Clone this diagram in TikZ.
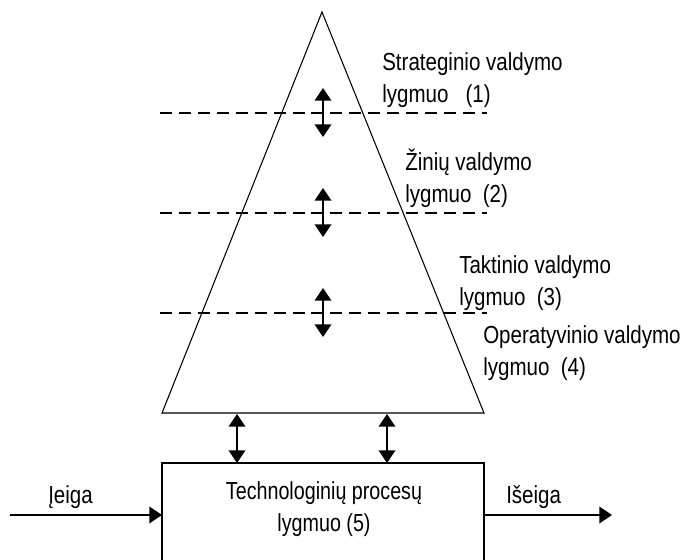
\documentclass[tikz,border=0pt]{standalone}
\usepackage{fontspec}
\usepackage{graphicx}
\setmainfont{Liberation Sans}
\usetikzlibrary{arrows.meta}
% the lettering is set slightly taller than the font's natural shape
\newcommand\talltext[1]{\scalebox{1}[1.2]{#1}}
\newcommand\boxtext[1]{\scalebox{0.96}[1.2]{#1}}
\begin{document}
\begin{tikzpicture}[x=0.75pt,y=-0.75pt,
  outline/.style={line width=0.8pt},
  levelline/.style={line width=0.8pt, dash pattern=on 9pt off 5.2pt},
  link/.style={line width=1.2pt,
    {Triangle[length=9.5pt,width=12.5pt]}-{Triangle[length=9.5pt,width=12.5pt]}},
  flow/.style={line width=1.2pt, -{Triangle[length=9.5pt,width=12.5pt]}},
  txt/.style={font=\fontsize{15.4}{18}\selectfont, inner sep=0pt},
  lbl/.style={txt, anchor=base west}]
\clip (0,0) rectangle (682,560);
\fill[white] (0,0) rectangle (682,560);

% pyramid of management levels
\coordinate (apex) at (322,12);
\coordinate (bl) at (162,413);
\coordinate (br) at (484,413);
\draw[outline] (apex) -- (br) -- (bl) -- cycle;

% borders between levels, with the exchange between neighbouring levels
\foreach \yy/\nm in {113/a,213/b,313/c}{
  \coordinate (l\nm) at (160,\yy);
  \coordinate (r\nm) at (487,\yy);
  \draw[levelline] (l\nm) -- (r\nm);
  \coordinate (u\nm) at (323,\yy-25);
  \coordinate (d\nm) at (323,\yy+24);
  \draw[link] (u\nm) -- (d\nm);
}

% level labels
\node[lbl] (s1a) at (382,70)  {\talltext{Strateginio valdymo}};
\node[lbl] (s1b) at (382,103) {\talltext{lygmuo \ \ (1)}};
\node[lbl] (s2a) at (405,170) {\talltext{Žinių valdymo}};
\node[lbl] (s2b) at (405,202) {\talltext{lygmuo \ (2)}};
\node[lbl] (s3a) at (459,273) {\talltext{Taktinio valdymo}};
\node[lbl] (s3b) at (459,305) {\talltext{lygmuo \ (3)}};
\node[lbl] (s4a) at (483,343) {\talltext{Operatyvinio valdymo}};
\node[lbl] (s4b) at (483,375) {\talltext{lygmuo \ (4)}};

% technological process box
\coordinate (tl) at (162,463);
\coordinate (tr) at (484,463);
\draw[outline] (tl) rectangle (484,600);
\node[txt, anchor=base] (techa) at (324,499) {\boxtext{Technologinių procesų}};
\node[txt, anchor=base] (techb) at (324,531) {\boxtext{lygmuo (5)}};

% links between pyramid and box
\coordinate (p1) at (237,414);
\coordinate (p2) at (387,414);
\coordinate (q1) at (237,463);
\coordinate (q2) at (387,463);
\draw[link] (p1) -- (q1);
\draw[link] (p2) -- (q2);

% input and output
\coordinate (inS) at (10,515);
\coordinate (inE) at (162,515);
\coordinate (outS) at (484,515);
\coordinate (outE) at (612,515);
\draw[flow] (inS) -- (inE);
\draw[flow] (outS) -- (outE);
\node[lbl] (ie) at (48,503) {\talltext{Įeiga}};
\node[lbl] (ise) at (506,503) {\talltext{Išeiga}};
\end{tikzpicture}
\end{document}
